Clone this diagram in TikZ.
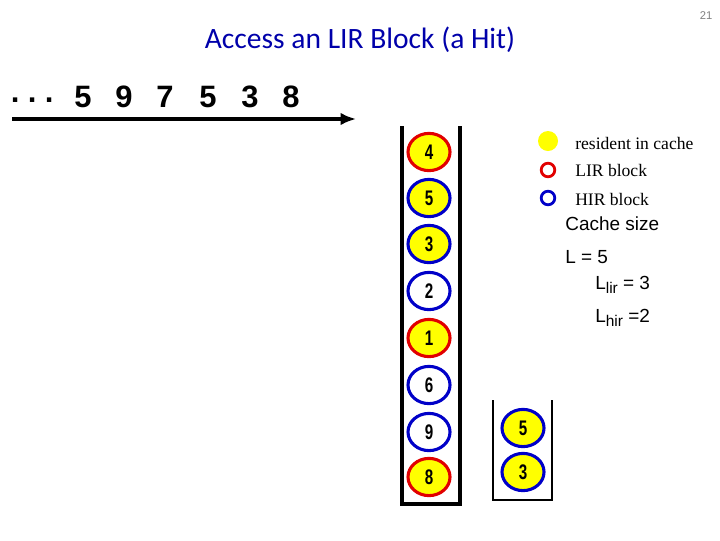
\documentclass[tikz,border=0pt]{standalone}
\usepackage{fontspec}
\setmainfont{Liberation Serif}
\setsansfont{Liberation Sans}
\newfontfamily\titlefont{Carlito}
\newfontfamily\numfont{Liberation Sans}[FakeStretch=0.72]
\usetikzlibrary{shapes.geometric,arrows.meta}
\definecolor{lirred}{RGB}{225,0,0}
\definecolor{hirblue}{RGB}{0,0,200}
\definecolor{resyellow}{RGB}{255,255,0}
\definecolor{titleblue}{RGB}{0,0,170}
\tikzset{
  blk/.style={ellipse,line width=2.2pt,minimum width=1.05cm,minimum height=0.93cm,
    inner sep=0pt,font=\numfont\bfseries\fontsize{15}{15}\selectfont},
  lir/.style={blk,draw=lirred},
  hir/.style={blk,draw=hirblue},
  res/.style={fill=resyellow},
  legend/.style={anchor=west,inner sep=0pt,font=\fontsize{12.5}{12.5}\selectfont},
  info/.style={anchor=west,inner sep=0pt,font=\sffamily\fontsize{13.5}{13.5}\selectfont},
  seq/.style={inner sep=0pt,font=\sffamily\bfseries\fontsize{22}{22}\selectfont}
}
\newcommand{\lsub}[1]{L\raisebox{-0.35ex}{\fontsize{11}{11}\selectfont #1}}
\begin{document}
\begin{tikzpicture}[x=0.025cm,y=-0.025cm]
\useasboundingbox (0,0) rectangle (720,540);

\node[font=\sffamily\fontsize{8}{8}\selectfont,text=gray] (page) at (706,16) {21};
\node[font=\titlefont\fontsize{21}{21}\selectfont,text=titleblue] (title) at (360,40) {Access an LIR Block (a Hit)};

\foreach \x [count=\i] in {16,33,50}
  \node[seq] (dot\i) at (\x,104) {·};
\foreach \d/\x [count=\i] in {5/83,9/124,7/165,5/208,3/250,8/291}
  \node[seq] (s\i) at (\x,97) {\d};
\coordinate (arrs) at (12,119);
\coordinate (arre) at (356,119);
\draw[line width=2.2pt,-{Latex[length=11pt,width=9pt]}] (arrs) -- (arre);

\draw[line width=2.2pt] (402,126) -- (402,504) -- (460,504) -- (460,126);
\draw[line width=1.2pt] (493,400) -- (493,500) -- (552,500) -- (552,400);

\node[lir,res] (b4) at (429,152) {4};
\node[hir,res] (b5) at (429,198) {5};
\node[hir,res] (b3) at (429,244) {3};
\node[hir] (b2) at (429,291) {2};
\node[lir,res] (b1) at (429,338) {1};
\node[hir] (b6) at (429,385) {6};
\node[hir] (b9) at (429,432) {9};
\node[lir,res] (b8) at (429,477) {8};

\node[hir,res] (q5) at (523,428) {5};
\node[hir,res] (q3) at (523,472) {3};

\node[circle,fill=resyellow,minimum size=0.5cm,inner sep=0pt] (kres) at (548,141) {};
\node[circle,draw=lirred,line width=2pt,minimum size=0.34cm,inner sep=0pt] (klir) at (548,170) {};
\node[circle,draw=hirblue,line width=2pt,minimum size=0.34cm,inner sep=0pt] (khir) at (548,198) {};
\node[legend] (tres) at (575,143) {resident in cache};
\node[legend] (tlir) at (575,170) {LIR block};
\node[legend] (thir) at (575,199) {HIR block};

\node[info] (csize) at (565,224) {Cache size};
\node[info] (ltot) at (565,257) {L = 5};
\node[info] (llir) at (595,285) {\lsub{lir} = 3};
\node[info] (lhir) at (595,318) {\lsub{hir} =2};
\end{tikzpicture}
\end{document}
